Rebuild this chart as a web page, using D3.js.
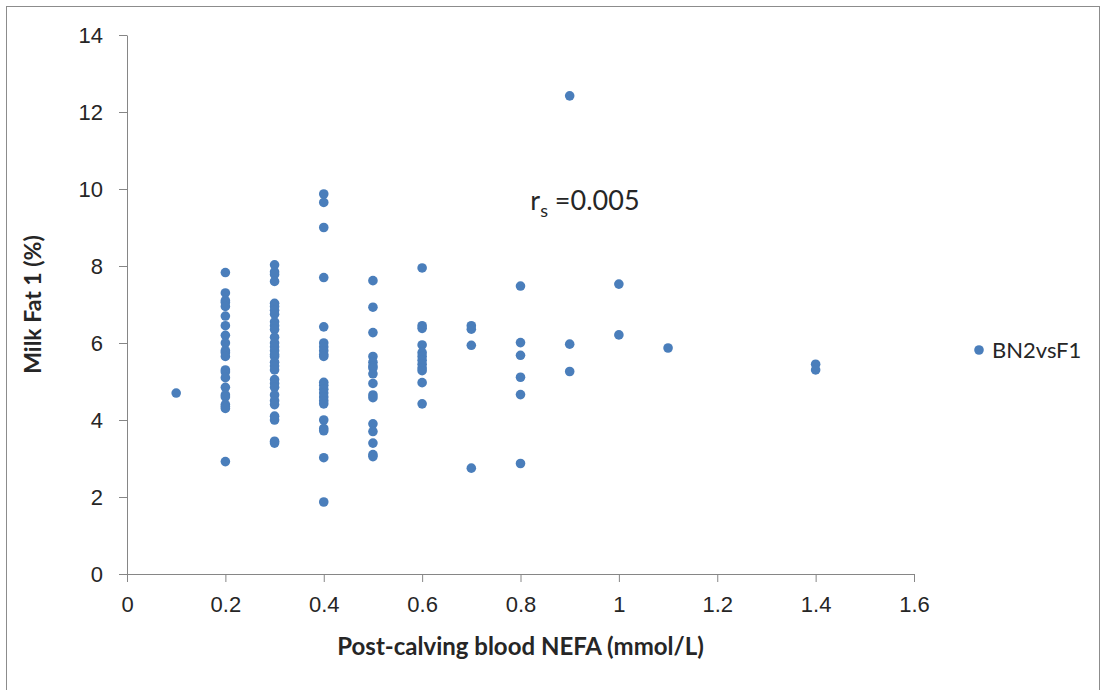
<!DOCTYPE html>
<html>
<head>
<meta charset="utf-8">
<script src="https://cdn.jsdelivr.net/npm/d3@7"></script>
<style>
  body { margin: 0; background: #fff; }
  svg { display: block; font-family: Lato, "Open Sans", sans-serif; }
</style>
</head>
<body>
<div id="chart"></div>
<script>
// NEFA columns (mmol/L) and milk fat readings (%)
var nefa01 = [4.70];
var nefa02 = [7.83, 7.30, 7.10, 7.05, 6.95, 6.70, 6.45, 6.20, 6.00, 5.80, 5.75, 5.65, 5.30, 5.25, 5.10, 4.85, 4.65, 4.60, 4.40, 4.35, 4.30, 2.92];
var nefa03 = [8.03, 7.85, 7.78, 7.60, 7.03, 6.95, 6.85, 6.75, 6.55, 6.45, 6.35, 6.15, 6.00, 5.90, 5.80, 5.70, 5.65, 5.50, 5.40, 5.30, 5.05, 4.95, 4.85, 4.65, 4.50, 4.40, 4.10, 4.00, 3.45, 3.40];
var nefa04 = [9.87, 9.65, 9.00, 7.70, 6.42, 6.00, 5.90, 5.80, 5.70, 5.65, 4.98, 4.90, 4.80, 4.70, 4.60, 4.50, 4.42, 4.00, 3.78, 3.72, 3.02, 1.87];
var nefa05 = [7.62, 6.93, 6.27, 5.65, 5.50, 5.40, 5.35, 5.20, 4.95, 4.65, 4.58, 3.90, 3.70, 3.40, 3.10, 3.05];
var nefa06 = [7.95, 6.45, 6.38, 5.95, 5.75, 5.65, 5.55, 5.45, 5.35, 5.28, 4.97, 4.42];
var nefa07 = [6.45, 6.36, 5.94, 2.75];
var nefa08 = [7.48, 6.01, 5.68, 5.11, 4.66, 2.87];
var nefa09 = [12.42, 5.97, 5.26];
var nefa10 = [7.53, 6.21];
var nefa11 = [5.87];
var nefa14 = [5.45, 5.30];

var xTicks = [0, 0.2, 0.4, 0.6, 0.8, 1, 1.2, 1.4, 1.6];
var yTicks = [0, 2, 4, 6, 8, 10, 12, 14];
var seriesName = 'BN2vsF1';
var rsValue = '=0.005';

var columns = [
    [0.1, nefa01], [0.2, nefa02], [0.3, nefa03], [0.4, nefa04],
    [0.5, nefa05], [0.6, nefa06], [0.7, nefa07], [0.8, nefa08],
    [0.9, nefa09], [1.0, nefa10], [1.1, nefa11], [1.4, nefa14]
];

var points = [];
columns.forEach(function (c) {
    c[1].forEach(function (v) { points.push({ x: c[0], y: v }); });
});

var width = 1107, height = 690;
var dotColor = '#4A7EBB';
var axisColor = '#868686';
var textColor = '#262626';

var svg = d3.select('#chart').append('svg')
    .attr('width', width)
    .attr('height', height);

svg.append('rect')
    .attr('x', 6.5).attr('y', 6.5)
    .attr('width', 1093).attr('height', 700)
    .style('fill', 'none')
    .style('stroke', '#8c8c8c');

var x = d3.scaleLinear().domain([0, 1.6]).range([127, 914]);
var y = d3.scaleLinear().domain([0, 14]).range([574, 35]);

var fmt = function (d) { return String(+d.toFixed(1)); };

var xAxis = svg.append('g')
    .attr('transform', 'translate(0,' + y(0) + ')')
    .call(d3.axisBottom(x).tickValues(xTicks).tickFormat(fmt).tickSize(8).tickSizeOuter(0).tickPadding(14));

var yAxis = svg.append('g')
    .attr('transform', 'translate(' + x(0) + ',0)')
    .call(d3.axisLeft(y).tickValues(yTicks).tickSize(8).tickSizeOuter(0).tickPadding(16));

[xAxis, yAxis].forEach(function (g) {
    g.select('.domain').style('stroke', axisColor);
    g.selectAll('.tick line').style('stroke', axisColor);
    g.selectAll('.tick text')
        .style('fill', textColor)
        .style('font-size', '22px');
});

svg.append('g').selectAll('circle')
    .data(points)
    .enter().append('circle')
    .attr('cx', function (d) { return x(d.x); })
    .attr('cy', function (d) { return y(d.y); })
    .attr('r', 4.8)
    .style('fill', dotColor);

svg.append('text')
    .attr('x', (x(0) + x(1.6)) / 2)
    .attr('y', 655)
    .attr('text-anchor', 'middle')
    .style('font-size', '24px')
    .style('font-weight', 'bold')
    .style('fill', textColor)
    .text('Post-calving blood NEFA (mmol/L)');

svg.append('text')
    .attr('transform', 'translate(41,' + y(7.0) + ') rotate(-90)')
    .attr('text-anchor', 'middle')
    .style('font-size', '23px')
    .style('font-weight', 'bold')
    .style('fill', textColor)
    .text('Milk Fat 1 (%)');

// correlation note
var note = svg.append('text')
    .attr('x', x(0.82))
    .attr('y', y(9.45))
    .style('font-size', '27px')
    .style('fill', textColor);
note.append('tspan').text('r');
note.append('tspan').attr('dy', 7).style('font-size', '18px').text('s');
note.append('tspan').attr('dy', -7).text(' ' + rsValue);

// legend
var legend = svg.append('g').attr('transform', 'translate(979,350)');
legend.append('circle').attr('r', 4.8).style('fill', dotColor);
legend.append('text')
    .attr('x', 13)
    .attr('dy', '0.35em')
    .style('font-size', '22px')
    .style('fill', textColor)
    .text(seriesName);
</script>
</body>
</html>
